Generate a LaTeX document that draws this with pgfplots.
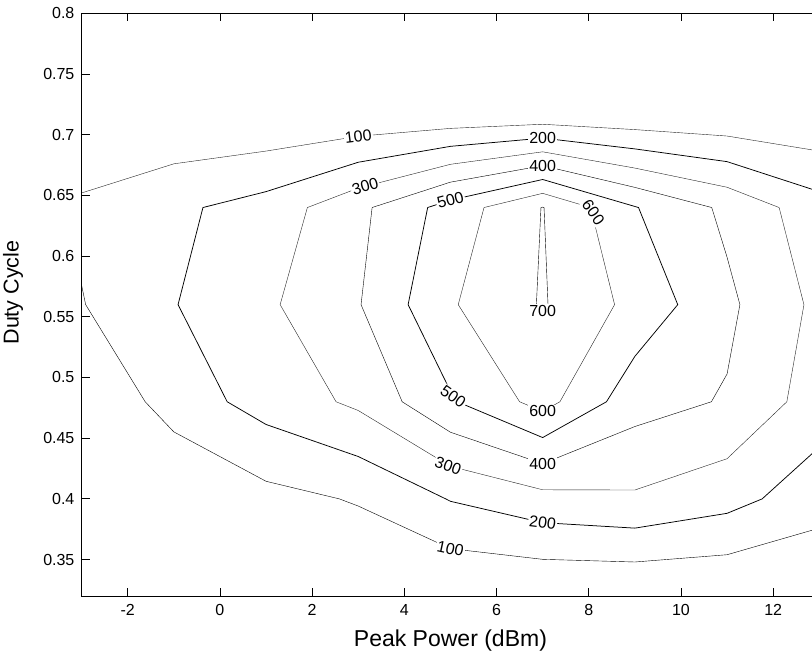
\documentclass[border=0pt]{standalone}
\usepackage{fontspec}
\setmainfont{Liberation Sans}
\usepackage{pgfplots}
\pgfplotsset{compat=1.18}
\tikzset{clab/.style={fill=white, inner sep=1.2pt, font=\fontsize{16}{16}\selectfont}}
\begin{document}
\begin{tikzpicture}
\begin{axis}[
  scale only axis, width=737.7pt, height=582.7pt,
  xmin=-3, xmax=13, ymin=0.32, ymax=0.8,
  xtick={-2,0,2,4,6,8,10,12}, xticklabels={-2,0,2,4,6,8,10,12},
  ytick={0.35,0.4,0.45,0.5,0.55,0.6,0.65,0.7,0.75,0.8},
  yticklabels={0.35,0.4,0.45,0.5,0.55,0.6,0.65,0.7,0.75,0.8},
  ytick pos=left, tick align=inside, major tick length=8pt,
  tick style={black, line width=0.8pt},
  axis line style={black, line width=0.8pt},
  tick label style={font=\fontsize{16}{16}\selectfont},
  xticklabel style={anchor=base, yshift=-19.3pt},
  yticklabel style={anchor=east, inner sep=0pt, xshift=-7pt},
  xlabel={Peak Power (dBm)}, ylabel={Duty Cycle},
  xlabel style={at={(axis description cs:0.5,-0.0870)}, anchor=base, font=\fontsize{23}{23}\selectfont},
  ylabel style={at={(axis description cs:-0.0855,0.5208)}, anchor=base, font=\fontsize{21.5}{21.5}\selectfont},
  cycle list={{black!85, solid, line width=0.75pt}},
  every axis plot/.append style={no markers},
]
% 100 (top and bottom branches)
\addplot coordinates {(-3,0.6520) (-1,0.6760) (1,0.6865) (3,0.6987) (5,0.7052) (7,0.7086) (9,0.7042) (11,0.6989) (13,0.6865)};
\addplot coordinates {(-3,0.576) (-2.912,0.56) (-1.621,0.48) (-1,0.4552) (1,0.4145) (2.590,0.40) (3,0.3941) (5,0.3590) (7,0.3502) (9,0.3480) (11,0.3540) (13,0.3759)};
% 200
\addplot coordinates {(13,0.6531) (11,0.6778) (9,0.6883) (7,0.6972) (5,0.6904) (3,0.6773) (1,0.6531) (-0.368,0.64) (-0.908,0.56) (0.158,0.48) (1,0.4613) (3,0.4349) (4.897,0.40) (5,0.3980) (7,0.3804) (9,0.3759) (11,0.3881) (11.761,0.40) (13,0.4426)};
% 300
\addplot coordinates {(1.897,0.64) (3,0.656) (5,0.6756) (7,0.6859) (9,0.6725) (11,0.6567) (12.129,0.64) (12.667,0.56) (12.296,0.48) (11,0.4331) (9,0.4073) (7,0.4075) (5,0.4268) (3,0.4728) (2.519,0.48) (1.306,0.56) (1.897,0.64)};
% 400
\addplot coordinates {(3.301,0.64) (5,0.6609) (7,0.6745) (9,0.6566) (10.667,0.64) (11,0.5990) (11.278,0.56) (11,0.5029) (10.660,0.48) (9,0.4596) (7,0.4290) (5,0.4549) (3.953,0.48) (3.061,0.56) (3.301,0.64)};
% 500
\addplot coordinates {(4.506,0.64) (5,0.6461) (7,0.6631) (9.079,0.64) (9.930,0.56) (9,0.5174) (8.384,0.48) (7,0.4505) (5.149,0.48) (5,0.4887) (4.082,0.56) (4.506,0.64)};
% 600
\addplot coordinates {(5.728,0.64) (7,0.6517) (8.040,0.64) (8.560,0.56) (7.374,0.48) (7,0.4720) (6.500,0.48) (5.169,0.56) (5.728,0.64)};
% 700
\addplot coordinates {(6.963,0.64) (7,0.6403) (7.030,0.64) (7.116,0.56) (7,0.5510) (6.864,0.56) (6.963,0.64)};
% contour labels
\node[clab, rotate=7] at (axis cs:3,0.6987) {100};
\node[clab] at (axis cs:7,0.6972) {200};
\node[clab] at (axis cs:7,0.6745) {400};
\node[clab, rotate=16] at (axis cs:3.15,0.6575) {300};
\node[clab, rotate=15] at (axis cs:5.0,0.6461) {500};
\node[clab, rotate=-55] at (axis cs:8.1,0.636) {600};
\node[clab] at (axis cs:7,0.555) {700};
\node[clab, rotate=-35] at (axis cs:5.06,0.484) {500};
\node[clab] at (axis cs:7,0.472) {600};
\node[clab, rotate=-20] at (axis cs:4.95,0.4275) {300};
\node[clab] at (axis cs:7,0.429) {400};
\node[clab, rotate=-7] at (axis cs:7,0.3804) {200};
\node[clab, rotate=-12] at (axis cs:5,0.359) {100};
\end{axis}
\pgfresetboundingbox
\path[use as bounding box] (current axis.south west) ++(-81.6pt,-56pt) rectangle ++(812pt,652pt);
\end{tikzpicture}
\end{document}
